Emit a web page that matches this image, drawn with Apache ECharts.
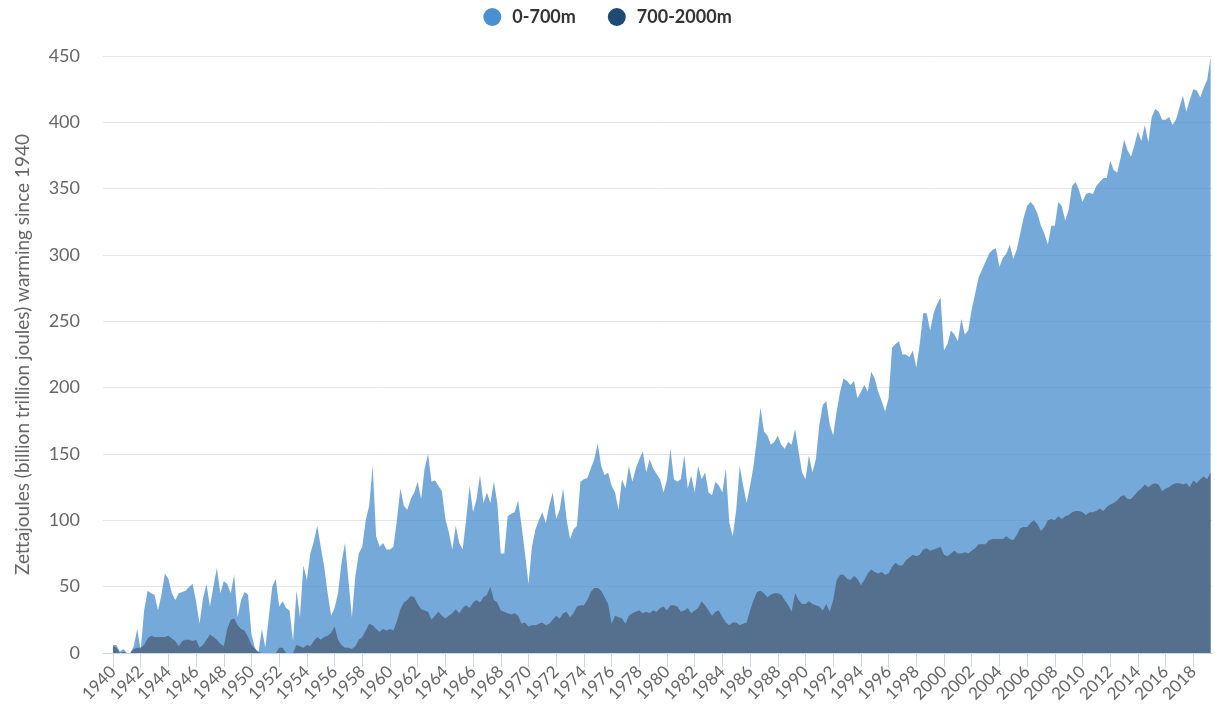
<!DOCTYPE html>
<html>
<head>
<meta charset="utf-8">
<script src="https://cdn.jsdelivr.net/npm/echarts@6/dist/echarts.min.js"></script>
<style>
html,body{margin:0;padding:0;background:#fff;}
#chart{width:1215px;height:711px;}
</style>
</head>
<body>
<div id="chart"></div>
<script>
// Quarterly samples starting 1940.0, step 0.25 year
var startYear = 1940;
var stepYears = 0.25;

var seriesNames = ['0-700m', '700-2000m'];

var tickYears = [1940,1942,1944,1946,1948,1950,1952,1954,1956,1958,1960,1962,1964,1966,1968,1970,1972,1974,1976,1978,1980,1982,1984,1986,1988,1990,1992,1994,1996,1998,2000,2002,2004,2006,2008,2010,2012,2014,2016,2018];

var yTicks = [0,50,100,150,200,250,300,350,400,450];

var values0to700 = [
  6,6,1,3,        // 1940
  0,0,5,18,       // 1941
  2,32,47,45,     // 1942
  44,32,44,60,    // 1943
  56,45,40,45,    // 1944
  46,47,50,52,    // 1945
  39,22,41,52,    // 1946
  35,50,64,45,    // 1947
  54,52,45,59,    // 1948
  27,40,46,44,    // 1949
  14,4,0,18,      // 1950
  4,27,50,56,     // 1951
  35,39,34,32,    // 1952
  9,47,27,66,     // 1953
  55,75,84,96,    // 1954
  80,65,45,28,    // 1955
  34,45,68,83,    // 1956
  55,27,58,75,    // 1957
  80,100,111,141, // 1958
  88,80,83,78,    // 1959
  78,80,100,124,  // 1960
  111,108,116,121,// 1961
  129,116,139,150,// 1962
  129,130,126,122,// 1963
  101,91,78,96,   // 1964
  83,78,101,126,  // 1965
  106,116,134,113,// 1966
  121,113,129,113,// 1967
  75,75,103,105,  // 1968
  106,115,96,75,  // 1969
  52,80,93,100,   // 1970
  106,98,111,121, // 1971
  101,108,124,101,// 1972
  86,93,96,129,   // 1973
  131,132,139,146,// 1974
  158,141,134,136,// 1975
  126,121,108,131,// 1976
  124,141,129,139,// 1977
  146,152,136,146,// 1978
  139,135,131,121,// 1979
  131,154,131,129,// 1980
  131,149,124,134,// 1981
  121,141,131,136,// 1982
  121,119,129,126,// 1983
  121,139,98,88,  // 1984
  108,141,126,113,// 1985
  126,141,162,185,// 1986
  167,164,157,159,// 1987
  164,157,154,159,// 1988
  157,169,152,136,// 1989
  131,149,136,146,// 1990
  172,187,190,172,// 1991
  164,182,197,207,// 1992
  205,202,205,192,// 1993
  197,202,197,212,// 1994
  207,197,190,182,// 1995
  192,230,233,235,// 1996
  225,225,223,228,// 1997
  215,233,256,256,// 1998
  243,256,263,268,// 1999
  228,233,243,240,// 2000
  235,252,240,243,// 2001
  259,271,283,289,// 2002
  295,301,304,305,// 2003
  291,298,301,308,// 2004
  297,304,316,328,// 2005
  337,340,337,331,// 2006
  322,316,308,322,// 2007
  322,340,337,326,// 2008
  334,352,355,349,// 2009
  340,346,347,346,// 2010
  352,355,358,358,// 2011
  371,364,362,373,// 2012
  387,379,374,383,// 2013
  393,386,398,385,// 2014
  404,410,408,402,// 2015
  402,404,398,402,// 2016
  411,420,408,417,// 2017
  425,424,419,426,// 2018
  432,449         // 2019
];

var values700to2000 = [
  5,4,0,1,        // 1940
  0,0,3,4,        // 1941
  4,6,11,13,      // 1942
  12,12,12,12,    // 1943
  13,11,9,5,      // 1944
  9,10,10,9,      // 1945
  10,4,6,10,      // 1946
  14,12,10,7,     // 1947
  5,18,25,26,     // 1948
  21,18,17,12,    // 1949
  6,3,1,0,        // 1950
  0,0,0,0,        // 1951
  4,4,0,0,        // 1952
  0,6,5,4,        // 1953
  6,5,9,12,       // 1954
  10,12,13,15,    // 1955
  20,10,6,4,      // 1956
  4,3,5,10,       // 1957
  12,17,22,21,    // 1958
  18,16,18,17,    // 1959
  18,17,24,33,    // 1960
  38,40,43,42,    // 1961
  37,33,32,31,    // 1962
  25,28,31,28,    // 1963
  26,28,30,33,    // 1964
  30,34,36,34,    // 1965
  38,40,38,42,    // 1966
  44,50,40,38,    // 1967
  32,31,30,29,    // 1968
  30,28,22,23,    // 1969
  20,21,21,22,    // 1970
  23,21,22,25,    // 1971
  28,26,30,31,    // 1972
  27,30,35,36,    // 1973
  36,40,46,49,    // 1974
  49,47,42,37,    // 1975
  22,28,27,26,    // 1976
  22,28,30,31,    // 1977
  32,30,31,30,    // 1978
  32,31,34,35,    // 1979
  32,36,36,35,    // 1980
  31,32,34,30,    // 1981
  32,34,39,36,    // 1982
  32,28,31,32,    // 1983
  27,23,21,23,    // 1984
  23,21,22,23,    // 1985
  32,40,46,47,    // 1986
  45,42,44,45,    // 1987
  45,44,40,36,    // 1988
  31,45,40,37,    // 1989
  37,39,37,36,    // 1990
  35,32,37,31,    // 1991
  40,55,59,59,    // 1992
  56,55,58,56,    // 1993
  51,55,60,63,    // 1994
  61,60,61,59,    // 1995
  60,65,68,66,    // 1996
  66,70,72,74,    // 1997
  73,74,78,79,    // 1998
  77,78,79,80,    // 1999
  74,73,75,77,    // 2000
  75,75,76,75,    // 2001
  77,79,82,82,    // 2002
  82,85,86,86,    // 2003
  86,86,88,86,    // 2004
  85,89,94,95,    // 2005
  95,98,100,97,   // 2006
  92,95,100,101,  // 2007
  100,103,101,103,// 2008
  104,106,107,107,// 2009
  106,104,106,106,// 2010
  107,109,107,110,// 2011
  112,113,115,118,// 2012
  119,116,116,119,// 2013
  122,124,127,125,// 2014
  127,128,127,122,// 2015
  124,125,127,128,// 2016
  128,127,128,125,// 2017
  130,128,131,133,// 2018
  131,136         // 2019
];

function toPairs(vals){
  var out = [];
  for (var i = 0; i < vals.length; i++) out.push([startYear + i*stepYears, vals[i]]);
  return out;
}

var FONT = 'Lato, "Open Sans", sans-serif';
var chart = echarts.init(document.getElementById('chart'), null, {renderer:'canvas'});
chart.setOption({
  animation: false,
  backgroundColor: '#ffffff',
  legend: {
    top: 3,
    left: 'center',
    icon: 'circle',
    itemWidth: 30,
    itemHeight: 18,
    itemGap: 32,
    textStyle: {fontFamily: FONT, fontSize: 18, fontWeight: 'bold', color: '#333333'},
    data: seriesNames
  },
  grid: {left: 103, right: 3, top: 56, bottom: 58, containLabel: false},
  xAxis: {
    type: 'value',
    min: 1939.28,
    max: 2019.35,
    axisLine: {show: true, lineStyle: {color: '#ccd6eb', width: 1}},
    axisTick: {show: true, length: 14, lineStyle: {color: '#ccd6eb'}, customValues: tickYears},
    axisLabel: {
      rotate: 45, margin: 16, color: '#666666', fontFamily: FONT, fontSize: 17,
      customValues: tickYears,
      formatter: function(v){ return String(Math.round(v)); }
    },
    splitLine: {show: false}
  },
  yAxis: {
    type: 'value',
    min: 0, max: 450, interval: 50,
    name: 'Zettajoules (billion trillion joules) warming since 1940',
    nameLocation: 'middle',
    nameGap: 71,
    nameTextStyle: {fontFamily: FONT, fontSize: 19, color: '#666666'},
    axisLine: {show: false},
    axisTick: {show: false},
    axisLabel: {margin: 23, color: '#666666', fontFamily: FONT, fontSize: 18},
    splitLine: {show: true, lineStyle: {color: '#e6e6e6', width: 1}}
  },
  series: [
    {
      name: seriesNames[0],
      type: 'line',
      data: toPairs(values0to700),
      showSymbol: false,
      symbol: 'none',
      color: '#4a8fcf',
      lineStyle: {width: 0, color: 'rgba(74,143,207,0)'},
      areaStyle: {color: 'rgba(74,143,207,0.77)', opacity: 1, origin: 'start'},
      clip: true,
      z: 2
    },
    {
      name: seriesNames[1],
      type: 'line',
      data: toPairs(values700to2000),
      showSymbol: false,
      symbol: 'none',
      color: '#1f4a74',
      lineStyle: {width: 0, color: 'rgba(31,74,116,0)'},
      areaStyle: {color: 'rgba(74,95,118,0.76)', opacity: 1, origin: 'start'},
      clip: true,
      z: 3
    }
  ]
});
</script>
</body>
</html>
